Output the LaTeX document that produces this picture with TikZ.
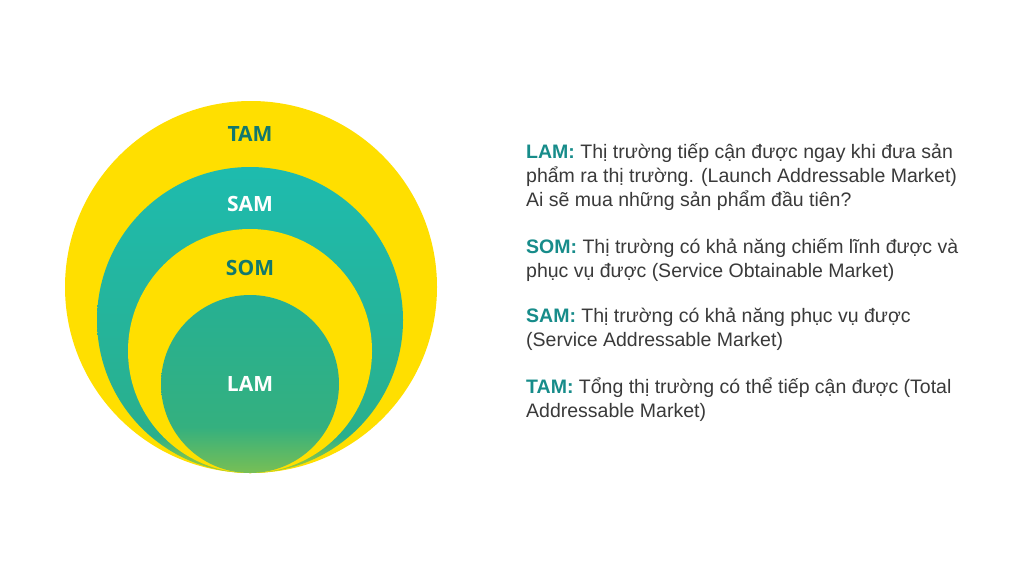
\documentclass[tikz,border=0pt]{standalone}
\usepackage{fontspec}
\setmainfont{Liberation Sans}
\newfontfamily\labelfont{Open Sans}
\definecolor{tamyellow}{HTML}{FFDF00}
\definecolor{samtop}{HTML}{1EBBAE}
\definecolor{sammid}{HTML}{2AAF8C}
\definecolor{samlow}{HTML}{A9CF2E}
\definecolor{lamtop}{HTML}{26B093}
\definecolor{lammid}{HTML}{34B07F}
\definecolor{lamlow}{HTML}{78BF54}
\definecolor{tagdark}{HTML}{12786E}
\definecolor{keyteal}{HTML}{178C8A}
\definecolor{txtgray}{HTML}{3A3A3A}
\pgfdeclareverticalshading{samfill}{100bp}{color(0bp)=(samlow); color(25bp)=(samlow); color(31bp)=(sammid); color(75bp)=(samtop); color(100bp)=(samtop)}
\pgfdeclareverticalshading{lamfill}{100bp}{color(0bp)=(lamlow); color(25bp)=(lamlow); color(38bp)=(lammid); color(75bp)=(lamtop); color(100bp)=(lamtop)}
\newcommand{\mkey}[1]{\textbf{\color{keyteal}#1}}

\begin{document}
\begin{tikzpicture}[x=1pt,y=-1pt,
    tag/.style={font=\labelfont\bfseries\fontsize{21}{22}\selectfont},
    para/.style={anchor=base west,align=left,inner sep=0pt,text=txtgray,font=\fontsize{19.5}{23.8}\selectfont}]
  \useasboundingbox[fill=white] (0,0) rectangle (1024,576);
  % nested markets, all touching at the bottom
  \fill[tamyellow] (251,287) circle[radius=186pt];
  \shade[shading=samfill] (250,320) circle[radius=153pt];
  \fill[tamyellow] (250,351) circle[radius=122pt];
  \shade[shading=lamfill] (250,384) circle[radius=89pt];
  \node[tag,text=tagdark] (tam) at (250,134) {TAM};
  \node[tag,text=white] (sam) at (250,204) {SAM};
  \node[tag,text=tagdark] (som) at (250,268) {SOM};
  \node[tag,text=white] (lam) at (250,384) {LAM};
  % legend (base = last line)
  \node[para] (lamtxt) at (526,206) {\mkey{LAM:} Thị trường tiếp cận được ngay khi đưa sản\\phẩm ra thị trường. (Launch Addressable Market)\\Ai sẽ mua những sản phẩm đầu tiên?};
  \node[para] (somtxt) at (526,277) {\mkey{SOM:} Thị trường có khả năng chiếm lĩnh được và\\phục vụ được (Service Obtainable Market)};
  \node[para] (samtxt) at (526,346) {\mkey{SAM:} Thị trường có khả năng phục vụ được\\(Service Addressable Market)};
  \node[para] (tamtxt) at (526,417) {\mkey{TAM:} Tổng thị trường có thể tiếp cận được (Total\\Addressable Market)};
\end{tikzpicture}
\end{document}
